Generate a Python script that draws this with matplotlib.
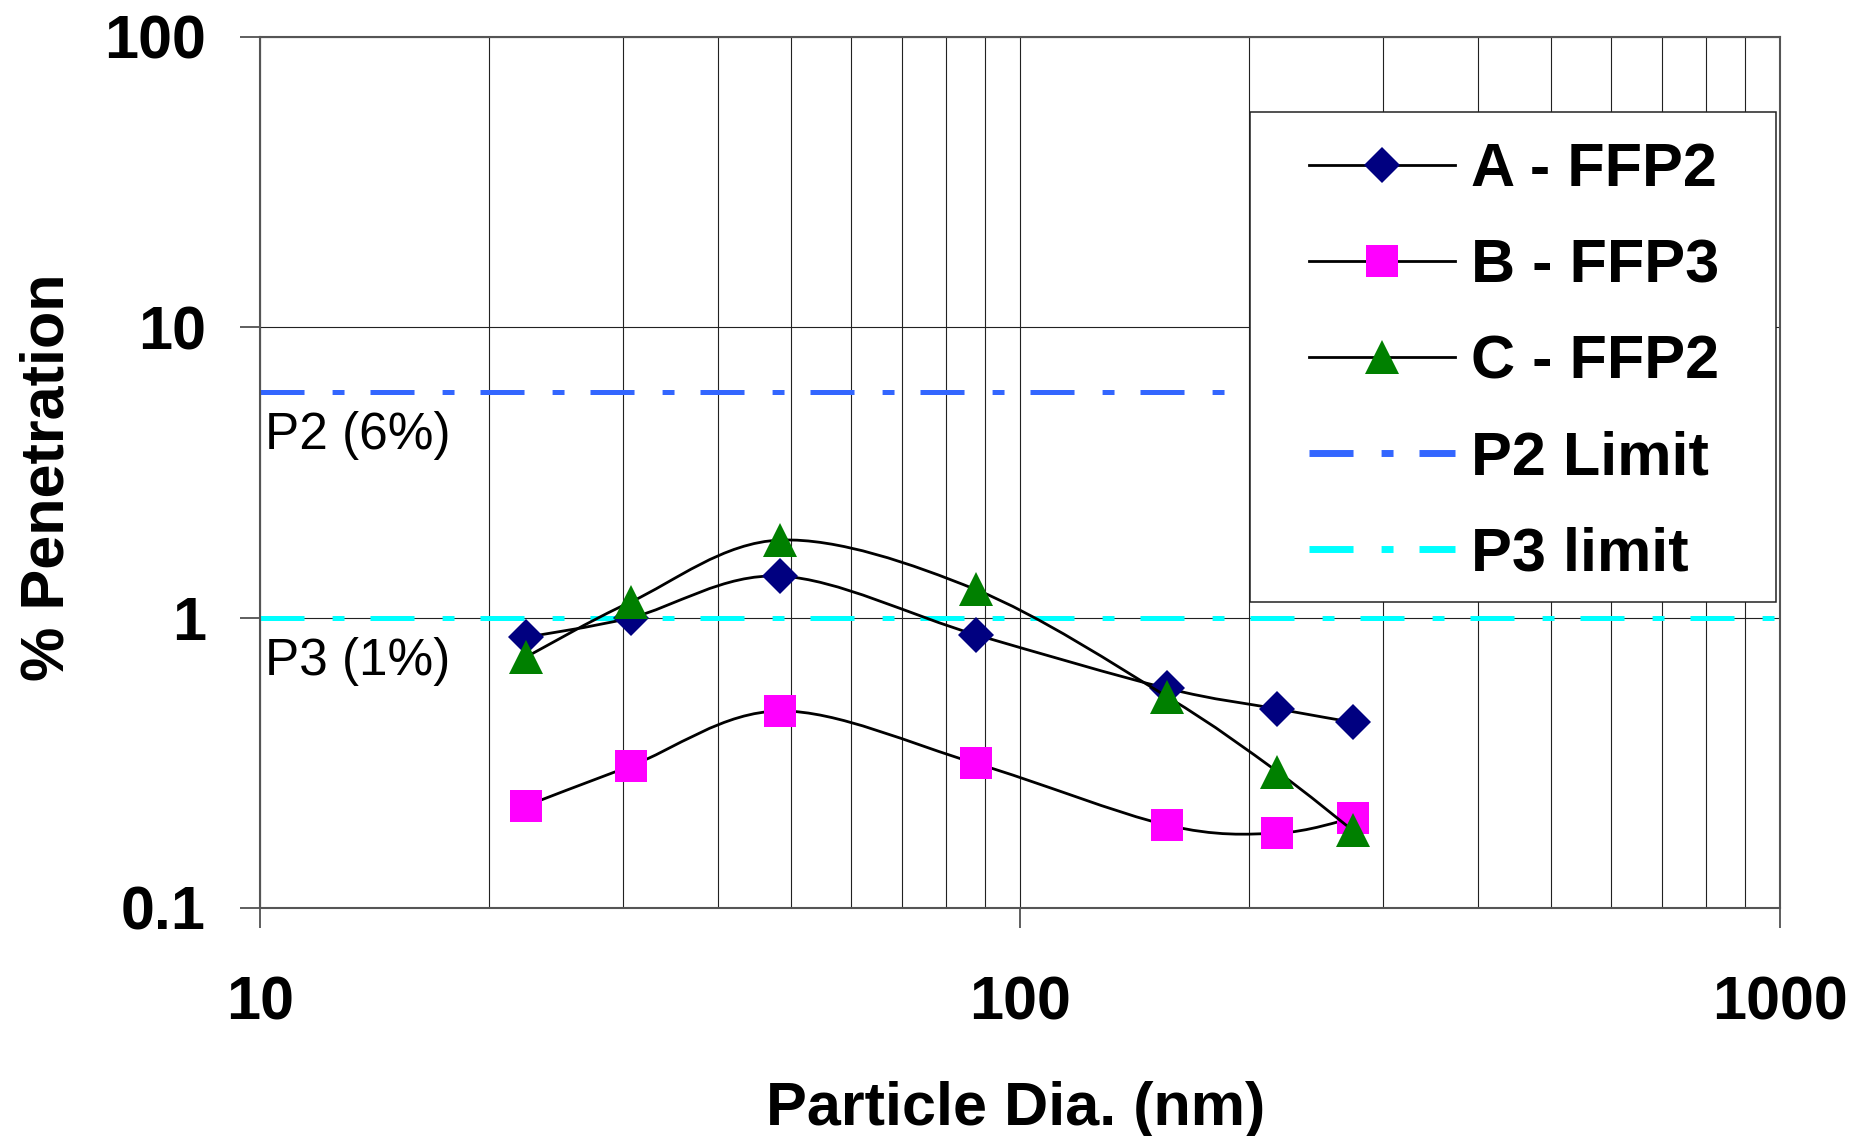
import numpy as np
import matplotlib
matplotlib.use('Agg')
import matplotlib.pyplot as plt
from matplotlib.path import Path
from matplotlib.patches import PathPatch, Rectangle
from matplotlib.lines import Line2D
from matplotlib.ticker import LogLocator, NullLocator, NullFormatter

plt.rcParams['font.family'] = ['Liberation Sans', 'DejaVu Sans']
plt.rcParams['lines.scale_dashes'] = False

# ---------------- data ----------------
diameter_nm = [22.4, 30.8, 48.4, 87.4, 156, 218, 274]
pen_A_ffp2 = [0.856, 1.00, 1.39, 0.874, 0.571, 0.485, 0.436]
pen_B_ffp3 = [0.225, 0.309, 0.477, 0.315, 0.193, 0.181, 0.204]
pen_C_ffp2 = [0.732, 1.135, 1.85, 1.25, 0.535, 0.295, 0.185]
p2_limit = 6
p3_limit = 1
series_labels = ['A - FFP2', 'B - FFP3', 'C - FFP2']
limit_labels = ['P2 Limit', 'P3 limit']
limit_texts = ['P2 (6%)', 'P3 (1%)']
x_ticks = [10, 100, 1000]
x_tick_labels = ['10', '100', '1000']
y_ticks = [0.1, 1, 10, 100]
y_tick_labels = ['0.1', '1', '10', '100']

W, H = 1854, 1136
fig = plt.figure(figsize=(W / 100, H / 100), dpi=100)
ax = fig.add_axes([260 / W, (H - 908) / H, 1520 / W, (908 - 36.9) / H])
ax.set_xscale('log')
ax.set_yscale('log')
ax.set_xlim(10, 1000)
ax.set_ylim(0.1, 100)


def smooth_path(xs, ys):
    """Excel-like smoothed line (Catmull-Rom Bezier) built in log space."""
    P = np.column_stack([np.log10(xs), np.log10(ys)])
    n = len(P)
    verts = [P[0]]
    codes = [Path.MOVETO]
    for i in range(n - 1):
        p0 = P[i - 1] if i > 0 else P[i]
        p1, p2 = P[i], P[i + 1]
        p3 = P[i + 2] if i + 2 < n else P[i + 1]
        verts += [p1 + (p2 - p0) / 6, p2 - (p3 - p1) / 6, p2]
        codes += [Path.CURVE4] * 3
    return Path(10 ** np.array(verts), codes)


dash = (0, (31.7, 20.2, 8.6, 18.7))
ax.axhline(p2_limit, color='#3366FF', lw=3.6, linestyle=dash, zorder=2)
ax.axhline(p3_limit, color='#00FFFF', lw=3.6, linestyle=dash, zorder=2)

styles = [
    dict(marker='D', ms=18.8, color='#000080'),
    dict(marker='s', ms=23.5, color='#FF00FF'),
    dict(marker='^', ms=25.0, color='#008000'),
]
handles = []
for k, (vals, st) in enumerate(zip([pen_A_ffp2, pen_B_ffp3, pen_C_ffp2], styles)):
    patch = PathPatch(smooth_path(diameter_nm, vals), fill=False, ec='black',
                      lw=2.0, zorder=3 + k * 0.1, capstyle='round')
    ax.add_patch(patch)
    ax.plot(diameter_nm, vals, ls='none', marker=st['marker'], ms=st['ms'],
            mfc=st['color'], mec=st['color'], mew=0, zorder=3.05 + k * 0.1)
    handles.append(Line2D([], [], color='black', lw=2.0, marker=st['marker'],
                          ms=st['ms'], mfc=st['color'], mec=st['color'], mew=0))
handles.append(Line2D([], [], color='#3366FF', lw=5, linestyle=dash))
handles.append(Line2D([], [], color='#00FFFF', lw=5, linestyle=dash))

for val, txt in zip([p2_limit, p3_limit], limit_texts):
    ax.annotate(txt, xy=(0.0035, val), xycoords=('axes fraction', 'data'),
                xytext=(0, -41.5), textcoords='offset points',
                ha='left', va='baseline', fontsize=37, zorder=4)

# ticks / grid
ax.set_xticks(x_ticks, x_tick_labels, fontweight='bold')
ax.set_yticks(y_ticks, y_tick_labels, fontweight='bold')
ax.xaxis.set_minor_locator(LogLocator(base=10, subs=np.arange(2, 10)))
ax.xaxis.set_minor_formatter(NullFormatter())
ax.yaxis.set_minor_locator(NullLocator())
ax.tick_params(axis='both', which='major', length=14.4, width=1.1,
               color='#333333', labelsize=44, direction='out')
ax.tick_params(axis='x', which='major', pad=34)
ax.tick_params(axis='y', which='major', pad=24.5)
ax.tick_params(axis='x', which='minor', length=0)
ax.grid(True, which='both', axis='x', color='#222222', lw=0.8, zorder=1)
ax.grid(True, which='major', axis='y', color='#222222', lw=0.8, zorder=1)
ax.set_axisbelow(True)
for sp in ax.spines.values():
    sp.set_color('#555555')
    sp.set_linewidth(1.5)

ax.set_xlabel('Particle Dia. (nm)', fontsize=44, fontweight='bold', va='baseline')
ax.xaxis.set_label_coords(0.497, -(1125 - 908) / 871.1)
ax.set_ylabel('% Penetration', fontsize=44, fontweight='bold', va='baseline')
ax.yaxis.set_label_coords((63 - 260) / 1520, 0.494)

# legend frame + legend
frame = Rectangle((1250 / W, 1 - 602 / H), 525.5 / W, 490 / H,
                  transform=fig.transFigure, fc='white', ec='#222222',
                  lw=1.1, zorder=4.5, clip_on=False)
ax.add_artist(frame)
leg = ax.legend(handles, series_labels + limit_labels, loc='upper left',
                bbox_to_anchor=(1309 / W, 1 - 142 / H),
                bbox_transform=fig.transFigure, frameon=False, borderpad=0,
                borderaxespad=0, handlelength=146 / 61, handletextpad=0.25,
                labelspacing=0.64, prop={'size': 44, 'weight': 'bold'},
                numpoints=1)
leg.set_zorder(5)

fig.savefig('out.png', dpi=100)
